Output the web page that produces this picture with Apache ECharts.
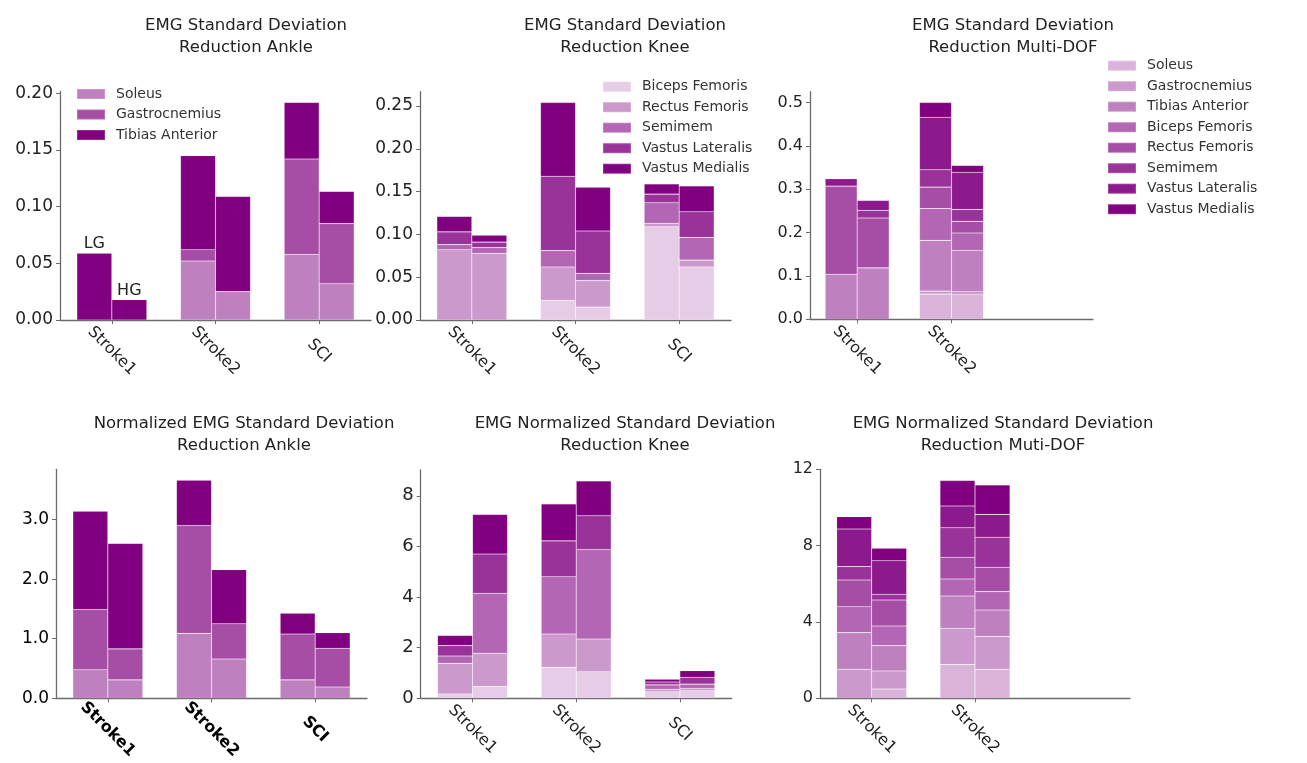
<!DOCTYPE html>
<html>
<head>
<meta charset="utf-8">
<script src="https://cdn.jsdelivr.net/npm/echarts@6/dist/echarts.min.js"></script>
<style>
  html, body { margin: 0; padding: 0; background: #fff; }
  #chart { width: 1307px; height: 763px; }
</style>
</head>
<body>
<div id="chart"></div>
<script>
// Subject groups on the x axis; the multi-DOF panels keep an empty third slot.
const groups3 = ['Stroke1', 'Stroke2', 'SCI'];
const groups2 = ['Stroke1', 'Stroke2', ''];

// Muscles stacked in each panel, bottom to top.
const ankleMuscles = ['Soleus', 'Gastrocnemius', 'Tibias Anterior'];
const kneeMuscles = ['Biceps Femoris', 'Rectus Femoris', 'Semimem', 'Vastus Lateralis', 'Vastus Medialis'];
const multiMuscles = ['Soleus', 'Gastrocnemius', 'Tibias Anterior', 'Biceps Femoris',
  'Rectus Femoris', 'Semimem', 'Vastus Lateralis', 'Vastus Medialis'];

// Shades of purple per muscle.
const ankleColors = ['#bf80bf', '#a64da6', '#800080'];
const kneeColors = ['#e6cce6', '#cc99cc', '#b366b3', '#993399', '#800080'];
const multiColors = ['#d9b3d9', '#cc99cc', '#bf80bf', '#b366b3', '#a64da6', '#993399', '#8c1a8c', '#800080'];

// EMG standard deviation reduction, ankle. One row per muscle: [Stroke1, Stroke2, SCI].
const ankleSdLG = [[0, 0.052, 0.058], [0, 0.010, 0.084], [0.059, 0.083, 0.050]];
const ankleSdHG = [[0, 0.025, 0.032], [0, 0, 0.053], [0.018, 0.084, 0.0285]];

// EMG standard deviation reduction, knee.
const kneeSdLG = [[0, 0.023, 0.109], [0.082, 0.039, 0.004], [0.006, 0.019, 0.024], [0.015, 0.087, 0.010], [0.018, 0.086, 0.012]];
const kneeSdHG = [[0, 0.015, 0.062], [0.078, 0.031, 0.008], [0.0065, 0.0085, 0.0265], [0.0065, 0.0495, 0.030], [0.0082, 0.051, 0.030]];

// EMG standard deviation reduction, multi-DOF: [Stroke1, Stroke2].
const multiSdLG = [[0, 0.058], [0, 0.007], [0.104, 0.117], [0, 0.073], [0.203, 0.0496], [0, 0.040], [0.017, 0.121], [0, 0.034]];
const multiSdHG = [[0, 0.0566], [0, 0.0069], [0.1186, 0.0955], [0, 0.040], [0.1148, 0.0268], [0.0176, 0.0275], [0.023, 0.0857], [0, 0.0154]];

// Normalized EMG standard deviation reduction, ankle.
const ankleNormLG = [[0.48, 1.09, 0.31], [1.01, 1.81, 0.77], [1.65, 0.76, 0.35]];
const ankleNormHG = [[0.31, 0.66, 0.19], [0.52, 0.59, 0.65], [1.77, 0.91, 0.26]];

// Normalized EMG standard deviation reduction, knee.
const kneeNormLG = [[0.17, 1.22, 0.26], [1.21, 1.32, 0.10], [0.29, 2.26, 0.17], [0.41, 1.42, 0.115], [0.40, 1.46, 0.11]];
const kneeNormHG = [[0.46, 1.05, 0.30], [1.32, 1.29, 0.09], [2.37, 3.54, 0.17], [1.55, 1.33, 0.27], [1.56, 1.38, 0.26]];

// Normalized EMG standard deviation reduction, multi-DOF.
const multiNormLG = [[0, 1.78], [1.52, 1.89], [1.92, 1.69], [1.36, 0.89], [1.40, 1.14], [0.70, 1.55], [1.97, 1.14], [0.65, 1.33]];
const multiNormHG = [[0.49, 1.52], [0.94, 1.71], [1.33, 1.40], [1.03, 0.96], [1.36, 1.28], [0.30, 1.57], [1.76, 1.20], [0.65, 1.54]];

// Y tick values per panel.
const ankleSdTicks = [0, 0.05, 0.10, 0.15, 0.20];
const kneeSdTicks = [0, 0.05, 0.10, 0.15, 0.20, 0.25];
const multiSdTicks = [0, 0.1, 0.2, 0.3, 0.4, 0.5];
const ankleNormTicks = [0, 1, 2, 3];
const kneeNormTicks = [0, 2, 4, 6, 8];
const multiNormTicks = [0, 4, 8, 12];

const FONT = 'DejaVu Sans';
const INK = '#222';
const AXIS = '#6b6b6b';

const panels = [
  { grid: { left: 60, top: 91.5, width: 311, height: 228.5 }, cats: groups3, muscles: ankleMuscles, colors: ankleColors,
    lg: ankleSdLG, hg: ankleSdHG, ticks: ankleSdTicks, dec: 2, barW: 35, yFont: 17,
    title: 'EMG Standard Deviation\nReduction Ankle', tx: 241, ty: 9.7, groupMarks: true },
  { grid: { left: 420, top: 91.7, width: 311, height: 228.3 }, cats: groups3, muscles: kneeMuscles, colors: kneeColors,
    lg: kneeSdLG, hg: kneeSdHG, ticks: kneeSdTicks, dec: 2, barW: 35, yFont: 17,
    title: 'EMG Standard Deviation\nReduction Knee', tx: 620, ty: 9.7 },
  { grid: { left: 810, top: 91.7, width: 283, height: 227.6 }, cats: groups2, muscles: multiMuscles, colors: multiColors,
    lg: multiSdLG, hg: multiSdHG, ticks: multiSdTicks, dec: 1, barW: 32, yFont: 16,
    title: 'EMG Standard Deviation\nReduction Multi-DOF', tx: 1008, ty: 9.7 },
  { grid: { left: 56, top: 469.3, width: 311, height: 229 }, cats: groups3, muscles: ankleMuscles, colors: ankleColors,
    lg: ankleNormLG, hg: ankleNormHG, ticks: ankleNormTicks, dec: 1, barW: 35, yFont: 17, bold: true,
    title: 'Normalized EMG Standard Deviation\nReduction Ankle', tx: 239, ty: 408 },
  { grid: { left: 420.7, top: 470, width: 311, height: 228.3 }, cats: groups3, muscles: kneeMuscles, colors: kneeColors,
    lg: kneeNormLG, hg: kneeNormHG, ticks: kneeNormTicks, dec: 0, barW: 35, yFont: 18,
    title: 'EMG Normalized Standard Deviation\nReduction Knee', tx: 620, ty: 408 },
  { grid: { left: 820, top: 469.3, width: 310, height: 229 }, cats: groups2, muscles: multiMuscles, colors: multiColors,
    lg: multiNormLG, hg: multiNormHG, ticks: multiNormTicks, dec: 0, barW: 35, yFont: 16, yMax: 12,
    title: 'EMG Normalized Standard Deviation\nReduction Muti-DOF', tx: 998, ty: 408 }
];

// Tallest stack in a panel, padded the way the plotting library pads its limits.
function stackTop(p) {
  let top = 0;
  [p.lg, p.hg].forEach(rows => {
    rows[0].forEach((_, c) => {
      top = Math.max(top, rows.reduce((s, r) => s + (r[c] || 0), 0));
    });
  });
  return top * 1.05;
}

const grids = [], xAxes = [], yAxes = [], series = [], titles = [];

panels.forEach((p, gi) => {
  grids.push(Object.assign({ containLabel: false }, p.grid));
  titles.push({
    text: p.title, left: p.tx, top: p.ty, textAlign: 'center',
    textStyle: { fontFamily: FONT, fontSize: 16.5, fontWeight: 'normal', color: INK, lineHeight: 22 }
  });
  xAxes.push({
    type: 'category', gridIndex: gi, data: p.cats, boundaryGap: true,
    axisLine: { show: true, lineStyle: { color: AXIS, width: 1.3 } },
    axisTick: { show: true, alignWithLabel: true, length: 4, lineStyle: { color: AXIS },
      interval: (idx, val) => val !== '' },
    axisLabel: { interval: 0, rotate: -45, align: 'center', verticalAlign: 'middle', margin: 31,
      fontFamily: FONT, fontSize: 16, color: p.bold ? '#000' : INK, fontWeight: p.bold ? 'bold' : 'normal' },
    splitLine: { show: false }
  });
  yAxes.push({
    type: 'value', gridIndex: gi, min: 0, max: p.yMax || stackTop(p),
    axisLine: { show: true, lineStyle: { color: AXIS, width: 1.3 } },
    axisTick: { show: true, length: 4, customValues: p.ticks, lineStyle: { color: AXIS } },
    axisLabel: { customValues: p.ticks, formatter: v => v.toFixed(p.dec), margin: 7,
      fontFamily: FONT, fontSize: p.yFont, color: p.bold ? '#000' : INK },
    splitLine: { show: false }
  });
  p.muscles.forEach((m, k) => {
    [['LG', p.lg], ['HG', p.hg]].forEach(([cond, rows]) => {
      const data = rows[k].map((v, c) => {
        const val = v === 0 ? '-' : v;
        // Group markers above the first ankle bars.
        if (p.groupMarks && c === 0 && k === p.muscles.length - 1) {
          return { value: val, label: { show: true, formatter: cond, position: 'top', distance: 1,
            fontFamily: FONT, fontSize: 16, color: INK } };
        }
        return val;
      });
      series.push({
        type: 'bar', name: m, xAxisIndex: gi, yAxisIndex: gi,
        stack: 'p' + gi + cond, barWidth: p.barW, barGap: '0%',
        itemStyle: { color: p.colors[k], borderColor: 'rgba(255,255,255,0.18)', borderWidth: 0.6 },
        emphasis: { disabled: true },
        data
      });
    });
  });
});

function legendFor(muscles, colors, left, top) {
  return {
    data: muscles.map((m, k) => ({ name: m, itemStyle: { color: colors[k] } })),
    orient: 'vertical', left, top, padding: 0, icon: 'rect',
    itemWidth: 28, itemHeight: 10, itemGap: 6.5, selectedMode: false,
    textStyle: { fontFamily: FONT, fontSize: 14, lineHeight: 14, color: '#333', padding: [0, 0, 0, 6] }
  };
}

const chart = echarts.init(document.getElementById('chart'), null, { renderer: 'canvas' });
chart.setOption({
  animation: false,
  backgroundColor: '#fff',
  textStyle: { fontFamily: FONT },
  title: titles,
  grid: grids,
  xAxis: xAxes,
  yAxis: yAxes,
  legend: [
    legendFor(ankleMuscles, ankleColors, 76, 87),
    legendFor(kneeMuscles, kneeColors, 602, 79.7),
    legendFor(multiMuscles, multiColors, 1107, 58.7)
  ],
  series
});
</script>
</body>
</html>
